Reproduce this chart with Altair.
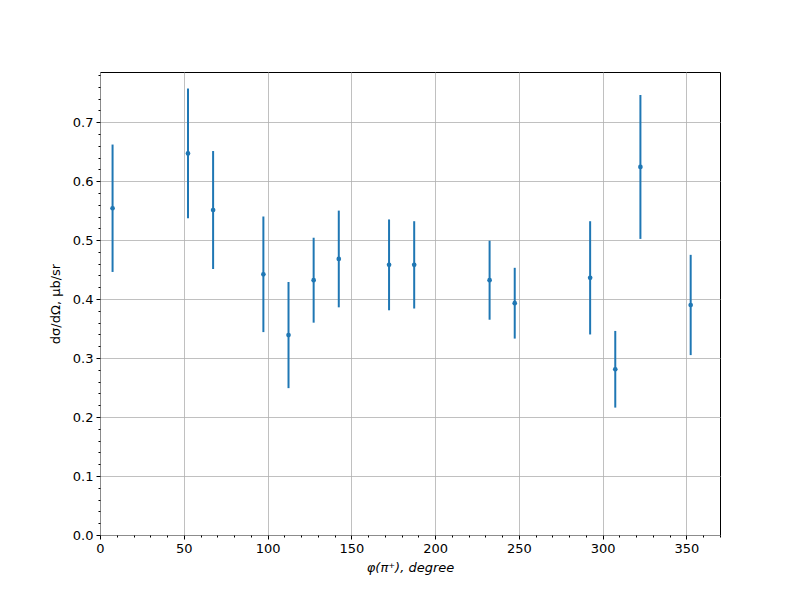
import altair as alt
import pandas as pd

phi = [7.5, 52.5, 67.5, 97.5, 112.5, 127.5, 142.5, 172.5, 187.5, 232.5, 247.5, 292.5, 307.5, 322.5, 352.5]
xsec = [0.554, 0.647, 0.551, 0.442, 0.339, 0.432, 0.468, 0.458, 0.458, 0.432, 0.393, 0.436, 0.281, 0.624, 0.390]
err = [0.108, 0.110, 0.100, 0.098, 0.090, 0.072, 0.082, 0.077, 0.074, 0.067, 0.060, 0.096, 0.065, 0.122, 0.085]

x_major = [0, 50, 100, 150, 200, 250, 300, 350]
x_minor = [v for v in range(0, 371, 10) if v % 50 != 0]
y_major = [0.0, 0.1, 0.2, 0.3, 0.4, 0.5, 0.6, 0.7]
y_minor = [round(i * 0.02, 2) for i in range(0, 40) if i % 5 != 0]

df = pd.DataFrame({"phi": phi, "xsec": xsec, "err": err})
df["lo"] = df["xsec"] - df["err"]
df["hi"] = df["xsec"] + df["err"]

color = "#1f77b4"
font = "DejaVu Sans"
common = dict(labelFont=font, titleFont=font, labelFontSize=13, titleFontSize=13,
              labelColor="black", titleColor="black", titleFontWeight="normal",
              tickColor="black", domain=False, labelFlush=False)

xscale = alt.Scale(domain=[0, 370], nice=False, zero=False)
yscale = alt.Scale(domain=[0, 0.785], nice=False, zero=False)

xaxis = alt.Axis(values=x_major, title="φ(π⁺), degree", titleFontStyle="italic",
                 grid=True, gridColor="#b0b0b0", gridWidth=0.8, tickSize=4,
                 labelPadding=3, orient="bottom", titlePadding=6, **common)
yaxis = alt.Axis(values=y_major, title="dσ/dΩ, μb/sr", format=".1f",
                 grid=True, gridColor="#b0b0b0", gridWidth=0.8, tickSize=4,
                 labelPadding=3, orient="left", titlePadding=10, **common)

bars = alt.Chart(df).mark_rule(color=color, strokeWidth=2).encode(
    x=alt.X("phi:Q", scale=xscale, axis=xaxis),
    y=alt.Y("lo:Q", scale=yscale, axis=yaxis),
    y2="hi:Q",
)

pts = alt.Chart(df).mark_circle(color=color, size=22, opacity=1).encode(
    x=alt.X("phi:Q", scale=xscale, axis=None),
    y=alt.Y("xsec:Q", scale=yscale, axis=None),
)

minor = alt.Chart(df).mark_point(opacity=0).encode(
    x=alt.X("phi:Q", scale=xscale,
            axis=alt.Axis(values=x_minor, labels=False, grid=False, domain=False, title=None,
                          tickSize=2, tickColor="black", orient="bottom")),
    y=alt.Y("xsec:Q", scale=yscale,
            axis=alt.Axis(values=y_minor, labels=False, grid=False, domain=False, title=None,
                          tickSize=2, tickColor="black", orient="left")),
)

chart = alt.layer(bars, pts, minor).resolve_axis(x="independent", y="independent").properties(
    width=620, height=463,
    autosize=alt.AutoSizeParams(type="none"),
    padding={"left": 92, "top": 64, "right": 60, "bottom": 50},
).configure(
    background="white",
    view=alt.ViewConfig(stroke="black", strokeWidth=1),
)

chart.save("out.html", embed_options={"renderer": "svg", "actions": False})
